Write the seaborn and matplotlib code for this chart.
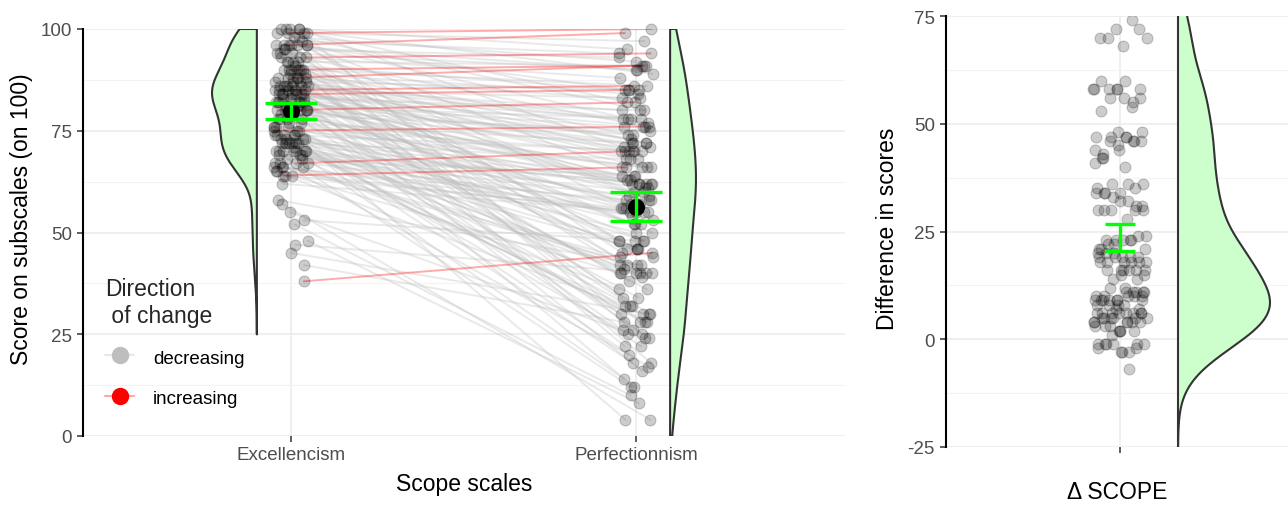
import numpy as np
import pandas as pd
import matplotlib
matplotlib.use("Agg")
import matplotlib.pyplot as plt
from matplotlib.lines import Line2D
import seaborn as sns

# Paired SCOPE subscale scores (on 100), one entry per participant
excellencism = [
    96, 93, 88, 85, 84, 99, 75, 67, 64, 38, 90, 80,
    100, 100, 99, 98, 73, 97, 72, 96, 96, 95, 70, 94, 69, 93, 92, 67, 91, 66,
    90, 89, 65, 88, 64, 87, 87, 86, 86, 85, 85, 84, 84, 83, 83, 82, 82, 81,
    80, 80, 79, 78, 77, 76, 75, 74, 73, 72, 70, 69, 68, 66, 47, 62, 53,
    100, 74, 98, 72, 96, 71, 94, 69, 92, 67, 90, 66, 89, 64, 88, 87, 86, 86,
    85, 84, 84, 83, 82, 81, 80, 80, 79, 78, 77, 76, 74, 72, 70, 42, 45, 58,
    100, 73, 96, 70, 93, 68, 90, 65, 88, 86, 85, 84, 82, 80, 78, 76, 74, 72, 66, 55,
    99, 72, 95, 70, 92, 67, 90, 88, 87, 85, 83, 82, 80, 78, 75, 72, 48, 52,
    100, 73, 96, 70, 92, 90, 88, 86, 84, 82, 80, 76, 70, 57,
    99, 96, 94, 90, 86, 80, 74,
]
perfectionnism = [
    99, 94, 91, 86, 85, 100, 76, 70, 66, 45, 91, 82,
    95, 89, 97, 92, 63, 94, 61, 90, 85, 93, 62, 90, 59, 88, 91, 57, 85, 56,
    86, 84, 55, 83, 55, 85, 78, 80, 77, 83, 73, 78, 76, 80, 72, 76, 71, 78,
    74, 71, 75, 66, 72, 70, 66, 70, 64, 68, 62, 60, 64, 58, 40, 55, 48,
    82, 53, 80, 50, 78, 48, 76, 46, 74, 44, 72, 42, 70, 40, 72, 68, 63, 70,
    66, 62, 68, 64, 61, 62, 57, 66, 59, 57, 62, 56, 58, 52, 54, 28, 30, 42,
    70, 41, 62, 39, 60, 32, 58, 30, 52, 56, 50, 48, 52, 46, 44, 48, 40, 42, 36, 24,
    55, 25, 48, 28, 46, 20, 42, 40, 46, 38, 40, 36, 34, 32, 30, 28, 8, 10,
    45, 17, 40, 12, 34, 30, 28, 32, 26, 24, 22, 18, 14, 4,
    25, 26, 22, 18, 16, 12, 4,
]
scale_labels = ["Excellencism", "Perfectionnism"]
direction_labels = ["decreasing", "increasing"]
score_ticks = [0, 25, 50, 75, 100]
diff_ticks = [-25, 0, 25, 50, 75]

sns.set_style("white")
plt.rcParams["font.family"] = ["Liberation Sans", "DejaVu Sans"]
plt.rcParams["axes.unicode_minus"] = False

TICK_COL = "#4d4d4d"
GRID_COL = "#ebebeb"
MINOR_COL = "#f3f3f3"
VIOLIN_FILL = "#ccffcc"
VIOLIN_EDGE = "#333333"
CI_COL = "#00ff00"
LINE_COLS = {"decreasing": "#bebebe", "increasing": "#ff0000"}
TITLE_SIZE = 16.5
TICK_SIZE = 13.5

exc = np.asarray(excellencism, float)
perf = np.asarray(perfectionnism, float)
n = len(exc)
delta = exc - perf
direction = np.where(perf > exc, "increasing", "decreasing")

# deterministic horizontal spread of the points (low-discrepancy sequence)
idx = np.arange(n)
u1 = (idx * 0.6180339887 + 0.31) % 1.0
u2 = (idx * 0.7548776662 + 0.17) % 1.0
u3 = (idx * 0.5698402910 + 0.53) % 1.0
x_exc = 1 + (u1 - 0.5) * 2 * 0.05
x_perf = 2 + (u2 - 0.5) * 2 * 0.05
x_delta = (u3 - 0.5) * 2 * 0.27

long = pd.DataFrame({
    "id": np.tile(idx, 2),
    "scale": np.repeat(scale_labels, n),
    "x": np.concatenate([x_exc, x_perf]),
    "score": np.concatenate([exc, perf]),
    "direction": np.tile(direction, 2),
})
wide = pd.DataFrame({"x": x_delta, "delta": delta})


def kde(values, grid):
    v = np.asarray(values, float)
    q75, q25 = np.percentile(v, [75, 25])
    bw = 0.9 * min(v.std(ddof=1), (q75 - q25) / 1.34) * len(v) ** -0.2
    z = (grid[:, None] - v[None, :]) / bw
    return np.exp(-0.5 * z ** 2).sum(1) / (len(v) * bw * np.sqrt(2 * np.pi))


def half_violin(ax, values, lo, hi, base, width, side):
    grid = np.linspace(lo, hi, 300)
    d = kde(values, grid)
    xs = base + side * d / d.max() * width
    ax.fill_betweenx(grid, base, xs, facecolor=VIOLIN_FILL, edgecolor="none", zorder=2)
    ax.plot(np.r_[base, xs, base, base], np.r_[lo, grid, hi, lo],
            color=VIOLIN_EDGE, lw=1.5, zorder=3, solid_joinstyle="round")


def mean_ci(values):
    v = np.asarray(values, float)
    return v.mean(), 1.96 * v.std(ddof=1) / np.sqrt(len(v))


def style_axes(ax, ticks, minor):
    ax.set_yticks(ticks)
    ax.set_yticks(minor, minor=True)
    for s in ["top", "right", "bottom"]:
        ax.spines[s].set_visible(False)
    ax.spines["left"].set_color("black")
    ax.spines["left"].set_linewidth(1.5)
    ax.yaxis.grid(True, which="major", color=GRID_COL, lw=1.1, zorder=0)
    ax.yaxis.grid(True, which="minor", color=MINOR_COL, lw=0.8, zorder=0)
    ax.xaxis.grid(True, which="major", color=GRID_COL, lw=1.1, zorder=0)
    ax.set_axisbelow(True)
    ax.tick_params(axis="y", which="major", left=True, length=4, width=1.1,
                   color="#333333", labelsize=TICK_SIZE, labelcolor=TICK_COL, pad=4)
    ax.tick_params(axis="y", which="minor", left=False)
    ax.tick_params(axis="x", bottom=True, length=4, width=1.1, color="#333333",
                   labelsize=TICK_SIZE, labelcolor=TICK_COL, pad=3)


fig = plt.figure(figsize=(12.88, 5.06), dpi=100)
axL = fig.add_axes([83 / 1288, 69 / 506, 762 / 1288, 407 / 506])
axR = fig.add_axes([946 / 1288, 58 / 506, 342 / 1288, 431 / 506])

# ---- left panel: paired scores ----
axL.set_xlim(0.397, 2.606)
axL.set_ylim(0, 100)
style_axes(axL, score_ticks, [12.5, 37.5, 62.5, 87.5])
axL.set_xticks([1, 2])
axL.set_xticklabels(scale_labels)

sns.lineplot(data=long, x="x", y="score", units="id", estimator=None,
             hue="direction", hue_order=direction_labels, palette=LINE_COLS,
             alpha=0.33, lw=1.4, sort=False, legend=False, ax=axL, zorder=1)

half_violin(axL, exc, 25, 100, 0.901, 0.130, -1)
half_violin(axL, perf, 0, 100, 2.099, 0.075, +1)

sns.scatterplot(data=long, x="x", y="score", color="black", alpha=0.2,
                edgecolor="black", linewidth=0.8, s=62, legend=False,
                ax=axL, zorder=4, clip_on=False)

for pos, vals in zip([1, 2], [exc, perf]):
    m, h = mean_ci(vals)
    axL.scatter([pos], [m], s=150, color="black", zorder=5, linewidths=0)
    axL.errorbar([pos], [m], yerr=[h], fmt="none", ecolor=CI_COL, elinewidth=2.4,
                 capsize=18.5, capthick=2.4, zorder=6)

axL.set_xlabel("Scope scales", fontsize=TITLE_SIZE, color="black")
axL.xaxis.set_label_coords(0.5, -0.1155)
axL.xaxis.label.set_verticalalignment("center")
axL.set_ylabel("Score on subscales (on 100)", fontsize=TITLE_SIZE, color="black")
axL.yaxis.set_label_coords(-0.0801, 0.5356)
axL.yaxis.label.set_verticalalignment("center")

handles = []
for d in direction_labels:
    h = Line2D([], [], color=matplotlib.colors.to_rgba(LINE_COLS[d], 0.35), lw=1.5,
               marker="o", markersize=11.5, markerfacecolor=LINE_COLS[d],
               markeredgecolor=LINE_COLS[d])
    handles.append(h)
leg = axL.legend(handles, direction_labels, title="Direction\n of change",
                 loc="upper left", bbox_to_anchor=(0.029, 0.39), frameon=False,
                 fontsize=TICK_SIZE, title_fontsize=TITLE_SIZE, alignment="left",
                 handlelength=1.55, handleheight=1.15, handletextpad=1.0,
                 labelspacing=1.1, borderpad=0, borderaxespad=0)
for t in leg.get_texts():
    t.set_color("black")

# ---- right panel: difference scores ----
axR.set_xlim(-1.74, 1.68)
axR.set_ylim(-25, 75)
style_axes(axR, diff_ticks, [-12.5, 12.5, 37.5, 62.5])
axR.set_xticks([0])
axR.set_xticklabels([""])

half_violin(axR, delta, -25, 85, 0.58, 0.92, +1)

sns.scatterplot(data=wide, x="x", y="delta", color="black", alpha=0.2,
                edgecolor="black", linewidth=0.8, s=62, legend=False,
                ax=axR, zorder=4)
m, h = mean_ci(delta)
axR.errorbar([0], [m], yerr=[h], fmt="none", ecolor=CI_COL, elinewidth=2.4,
             capsize=10.5, capthick=2.4, zorder=6)

axR.set_xlabel("\u0394 SCOPE", fontsize=TITLE_SIZE, color="black")
axR.xaxis.set_label_coords(0.5, -0.1044)
axR.xaxis.label.set_verticalalignment("center")
axR.set_ylabel("Difference in scores", fontsize=TITLE_SIZE, color="black")
axR.yaxis.set_label_coords(-0.1725, 0.509)
axR.yaxis.label.set_verticalalignment("center")

fig.savefig("out.png", dpi=100, facecolor="white")
